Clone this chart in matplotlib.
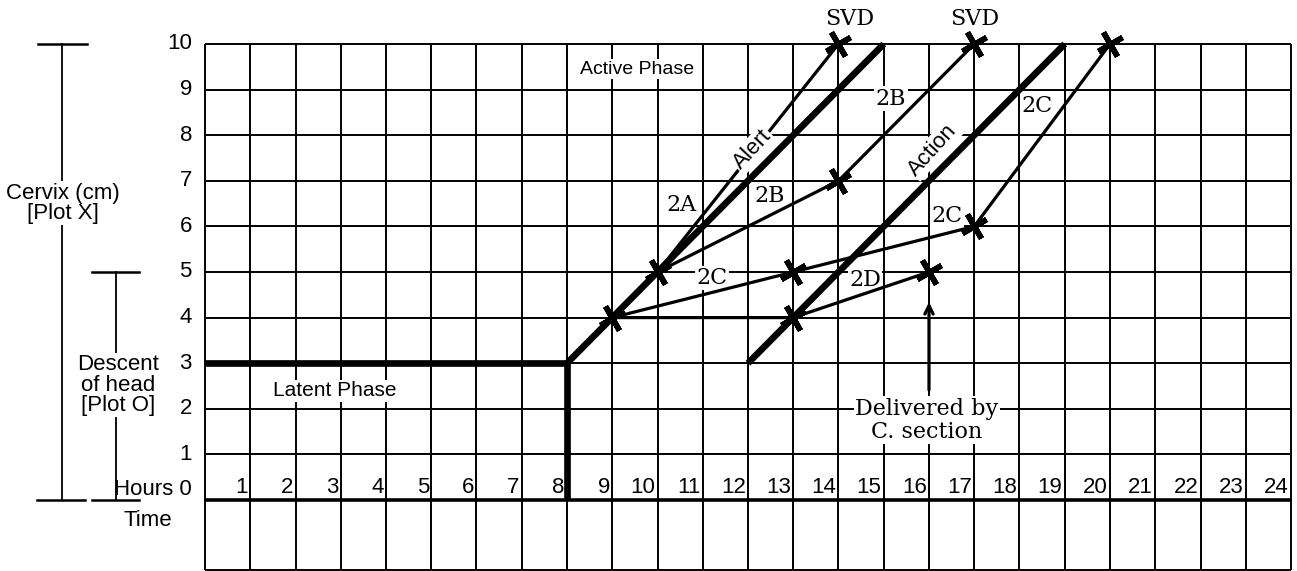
import numpy as np
import matplotlib.pyplot as plt

# grid
hours = np.arange(0, 25)
cervix = np.arange(0, 11)
time_row_bottom = -1.53

# reference lines
latent_x = [0, 8, 8]
latent_y = [3, 3, 0]
alert_x = [8, 15]
alert_y = [3, 10]
action_x = [12, 19]
action_y = [3, 10]

# cases
case_2a_x = [9, 10, 14]
case_2a_y = [4, 5, 10]
case_2b_x = [9, 10, 14, 17]
case_2b_y = [4, 5, 7, 10]
case_2c_x = [9, 13, 17, 20]
case_2c_y = [4, 5, 6, 10]
case_2d_x = [9, 13, 16]
case_2d_y = [4, 4, 5]

# plotted crosses
mark_x = [9, 10, 14, 14, 17, 13, 17, 20, 13, 16]
mark_y = [4, 5, 10, 7, 10, 5, 6, 10, 4, 5]

sans = ['Liberation Sans', 'DejaVu Sans']
serif = ['DejaVu Serif']

fig = plt.figure(figsize=(12.97, 5.71), dpi=100)
ax = fig.add_axes([0, 0, 1, 1])
ax.set_xlim(-205/45.25, (1297-205)/45.25)
ax.set_ylim(-71/45.6, 500/45.6)
ax.axis('off')

# grid lines
ax.vlines(hours, time_row_bottom, 10, colors='k', lw=1.4, zorder=1)
ax.hlines(cervix[1:], 0, 24, colors='k', lw=1.4, zorder=1)
ax.hlines(0, 0, 24, colors='k', lw=2.6, zorder=1)
ax.hlines(time_row_bottom, 0, 24, colors='k', lw=1.4, zorder=1)

# latent / alert / action
ax.plot(latent_x, latent_y, c='k', lw=4.8, solid_capstyle='butt', zorder=3)
ax.plot(alert_x, alert_y, c='k', lw=4.8, solid_capstyle='butt', zorder=3)
ax.plot(action_x, action_y, c='k', lw=4.8, solid_capstyle='butt', zorder=3)

for cx, cy in [(case_2a_x, case_2a_y), (case_2b_x, case_2b_y),
               (case_2c_x, case_2c_y), (case_2d_x, case_2d_y)]:
    ax.plot(cx, cy, c='k', lw=2.3, zorder=2)

ax.plot(mark_x, mark_y, ls='none', marker=(4, 2, 30), ms=20, mew=4,
        c='k', zorder=5, clip_on=False)

# axis labels
for v in cervix[1:]:
    ax.text(-0.29, v, str(v), ha='right', va='center', fontsize=16, family=sans)
ax.text(-0.29, 0.24, 'Hours 0', ha='right', va='center', fontsize=16, family=sans)
for h in hours[1:]:
    ax.text(h - 0.05, 0.04, str(h), ha='right', va='bottom', fontsize=16, family=sans)
ax.text(-0.72, -0.44, 'Time', ha='right', va='center', fontsize=16, family=sans)

# brackets on the left
ax.plot([-3.16, -3.16], [0, 10], c='k', lw=1.3)
ax.plot([-3.69, -2.61], [10, 10], c='k', lw=1.8)
ax.plot([-3.71, -2.65], [0, 0], c='k', lw=1.8)
ax.plot([-1.97, -1.97], [0, 5], c='k', lw=1.3)
ax.plot([-2.50, -1.46], [5, 5], c='k', lw=1.8)
ax.plot([-2.50, -1.46], [0, 0], c='k', lw=1.8)
box = dict(facecolor='white', edgecolor='none', pad=1)
ax.text(-3.14, 6.51, 'Cervix (cm)\n[Plot X]', ha='center', va='center',
        fontsize=16, family=sans, linespacing=0.95, bbox=box, zorder=4)
ax.text(-1.92, 2.52, 'Descent\nof head\n[Plot O]', ha='center', va='center',
        fontsize=16, family=sans, linespacing=0.95, bbox=box, zorder=4)

# phase labels
ax.text(9.55, 9.45, 'Active Phase', ha='center', va='center', fontsize=14,
        family=sans, bbox=box, zorder=1.5)
ax.text(2.87, 2.4, 'Latent Phase', ha='center', va='center', fontsize=15,
        family=sans, bbox=box, zorder=1.5)
ax.text(12.1, 7.68, 'Alert', ha='center', va='center', fontsize=16, rotation=47,
        family=sans, bbox=box, zorder=2.5)
ax.text(16.09, 7.68, 'Action', ha='center', va='center', fontsize=16, rotation=48,
        family=sans, bbox=box, zorder=1.5)

# case labels
case_labels = [('2A', 10.54, 6.47), ('2B', 12.49, 6.66), ('2B', 15.16, 8.8),
               ('2C', 11.2, 4.87), ('2C', 16.4, 6.22), ('2C', 18.38, 8.63),
               ('2D', 14.59, 4.82)]
for txt, lx, ly in case_labels:
    ax.text(lx, ly, txt, ha='center', va='center', fontsize=16, family=serif,
            bbox=box, zorder=1.5)
ax.text(14.25, 10.55, 'SVD', ha='center', va='center', fontsize=16, family=serif)
ax.text(17.02, 10.55, 'SVD', ha='center', va='center', fontsize=16, family=serif)

ax.text(15.95, 1.75, 'Delivered by\nC. section', ha='center', va='center',
        fontsize=16, family=serif, linespacing=1.05, bbox=box, zorder=1.5)
ax.annotate('', xy=(16, 4.4), xytext=(16, 2.35),
            arrowprops=dict(arrowstyle='->,head_length=0.6,head_width=0.3',
                            lw=2.3, color='k'), zorder=3)

plt.savefig('out.png')
